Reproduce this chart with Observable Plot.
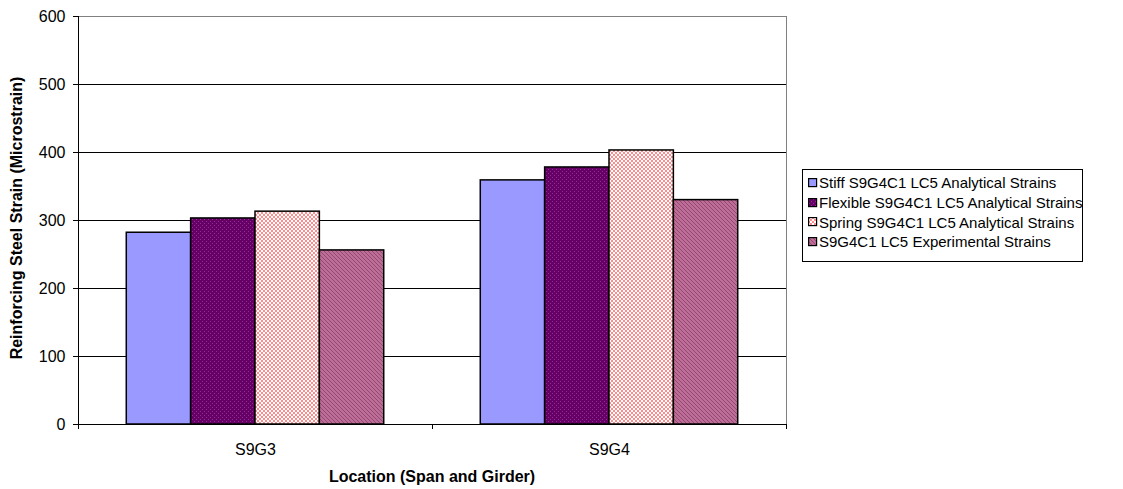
<!DOCTYPE html>
<html>
<head>
<meta charset="utf-8">
<script src="https://cdn.jsdelivr.net/npm/d3@7"></script>
<script src="https://cdn.jsdelivr.net/npm/@observablehq/plot@0.6"></script>
<style>
  html, body { margin: 0; padding: 0; background: #fff; }
  body { font-family: "Liberation Sans", Arial, sans-serif; color: #000; }
  #wrap { position: relative; width: 1123px; height: 489px; overflow: hidden; }
  #chart svg { display: block; }
  .axis-title { position: absolute; font-weight: bold; font-size: 16px; white-space: nowrap; }
  #ytitle { left: 17px; top: 218px; transform: translate(-50%, -50%) rotate(-90deg); }
  #xtitle { left: 432px; top: 468px; transform: translateX(-50%); }
  #legend {
    position: absolute; left: 802px; top: 169px; width: 281px; height: 93px;
    border: 1px solid #000; box-sizing: border-box; background: #fff;
    font-size: 15px; letter-spacing: 0px; padding: 3px 0 0 5px;
  }
  .item { display: flex; align-items: center; height: 19.7px; white-space: nowrap; }
  .item svg { flex: none; margin-right: 1px; }
</style>
</head>
<body>
<!-- fill patterns shared by the bars and the legend swatches -->
<svg width="0" height="0" style="position:absolute">
  <defs>
    <pattern id="fill-stiff" width="4" height="4" patternUnits="userSpaceOnUse">
      <rect width="4" height="4" fill="#9999FF"/>
    </pattern>
    <pattern id="fill-flexible" width="4" height="4" patternUnits="userSpaceOnUse">
      <rect width="4" height="4" fill="#660066"/>
      <rect x="1" y="1" width="1" height="1" fill="#8E2E8E"/>
      <rect x="3" y="3" width="1" height="1" fill="#8E2E8E"/>
    </pattern>
    <pattern id="fill-spring" width="4" height="4" patternUnits="userSpaceOnUse">
      <rect width="4" height="4" fill="#FFFFFF"/>
      <rect x="0" y="0" width="2" height="2" fill="#FF8C8C"/>
      <rect x="2" y="2" width="2" height="2" fill="#FF8C8C"/>
    </pattern>
    <pattern id="fill-experimental" width="4" height="4" patternUnits="userSpaceOnUse">
      <rect width="4" height="4" fill="#BA6E98"/>
      <rect x="0" y="0" width="1" height="1" fill="#994570"/>
      <rect x="1" y="1" width="1" height="1" fill="#994570"/>
      <rect x="2" y="2" width="1" height="1" fill="#994570"/>
      <rect x="3" y="3" width="1" height="1" fill="#994570"/>
    </pattern>
  </defs>
</svg>

<div id="wrap">
  <div id="chart"></div>
  <div id="ytitle" class="axis-title">Reinforcing Steel Strain (Microstrain)</div>
  <div id="xtitle" class="axis-title">Location (Span and Girder)</div>
  <div id="legend"></div>
</div>

<script>
// Locations along the bridge (span and girder)
const locations = ["S9G3", "S9G4"];

// Series names, in legend order
const seriesNames = [
  "Stiff S9G4C1 LC5 Analytical Strains",
  "Flexible S9G4C1 LC5 Analytical Strains",
  "Spring S9G4C1 LC5 Analytical Strains",
  "S9G4C1 LC5 Experimental Strains"
];

// Reinforcing steel strain (microstrain), one value per location
const stiffStrains = [282, 359];
const flexibleStrains = [303, 378];
const springStrains = [313, 403];
const experimentalStrains = [256, 330];

// Y-axis ticks
const yTicks = [0, 100, 200, 300, 400, 500, 600];

// Pattern fills per series
const seriesFills = ["url(#fill-stiff)", "url(#fill-flexible)", "url(#fill-spring)", "url(#fill-experimental)"];

const seriesValues = [stiffStrains, flexibleStrains, springStrains, experimentalStrains];
const data = locations.flatMap((location, i) =>
  seriesNames.map((series, j) => ({location, series, value: seriesValues[j][i]}))
);

const chart = Plot.plot({
  width: 1123,
  height: 489,
  marginTop: 16,
  marginBottom: 65,
  marginLeft: 77,
  marginRight: 337,
  style: {fontFamily: "'Liberation Sans', Arial, sans-serif", fontSize: "16px", color: "#000", background: "transparent", overflow: "visible"},
  fx: {domain: locations, padding: 0, label: null, axis: null},
  x: {domain: seriesNames, paddingInner: 0, paddingOuter: 0.75, round: false, axis: null},
  y: {domain: [0, 600], axis: null},
  color: {type: "ordinal", domain: seriesNames, range: seriesFills},
  marks: [
    Plot.ruleY(yTicks.slice(1, -1), {stroke: "#000", strokeWidth: 1}),
    Plot.ruleY([600], {stroke: "#808080", strokeWidth: 1}),
    Plot.frame({anchor: "right", fx: locations[locations.length - 1], stroke: "#808080"}),
    Plot.barY(data, {fx: "location", x: "series", y: "value", fill: "series", stroke: "#000", strokeWidth: 1.5}),
    Plot.frame({anchor: "left", fx: locations[0], stroke: "#000"}),
    Plot.ruleY([0], {stroke: "#000", strokeWidth: 1}),
    Plot.axisY({ticks: yTicks, tickSize: 5, tickPadding: 8, label: null, tickFormat: d => String(d), stroke: "#000"}),
    Plot.axisFx({anchor: "bottom", tickSize: 0, tickPadding: 19, label: null})
  ]
});
document.getElementById("chart").append(chart);

// Category boundary ticks below the x axis, placed from the fx scale
const fxScale = chart.scale("fx");
const bw = fxScale.bandwidth;
const edges = locations.map(l => fxScale.apply(l)).concat([fxScale.apply(locations[locations.length - 1]) + bw]);
const y0 = chart.scale("y").apply(0);
d3.select(chart).append("g")
  .attr("stroke", "#000")
  .selectAll("line")
  .data(edges)
  .join("line")
  .attr("x1", d => Math.round(d) + 0.5).attr("x2", d => Math.round(d) + 0.5)
  .attr("y1", y0).attr("y2", y0 + 5);

// Legend
const legend = d3.select("#legend");
seriesNames.forEach((name, i) => {
  const item = legend.append("div").attr("class", "item");
  const sw = item.append("svg").attr("width", 10).attr("height", 10);
  sw.append("rect").attr("x", 0.6).attr("y", 0.6).attr("width", 8).attr("height", 8)
    .attr("fill", seriesFills[i]).attr("stroke", "#000").attr("stroke-width", 1.2);
  item.append("span").text(name);
});
</script>
</body>
</html>
